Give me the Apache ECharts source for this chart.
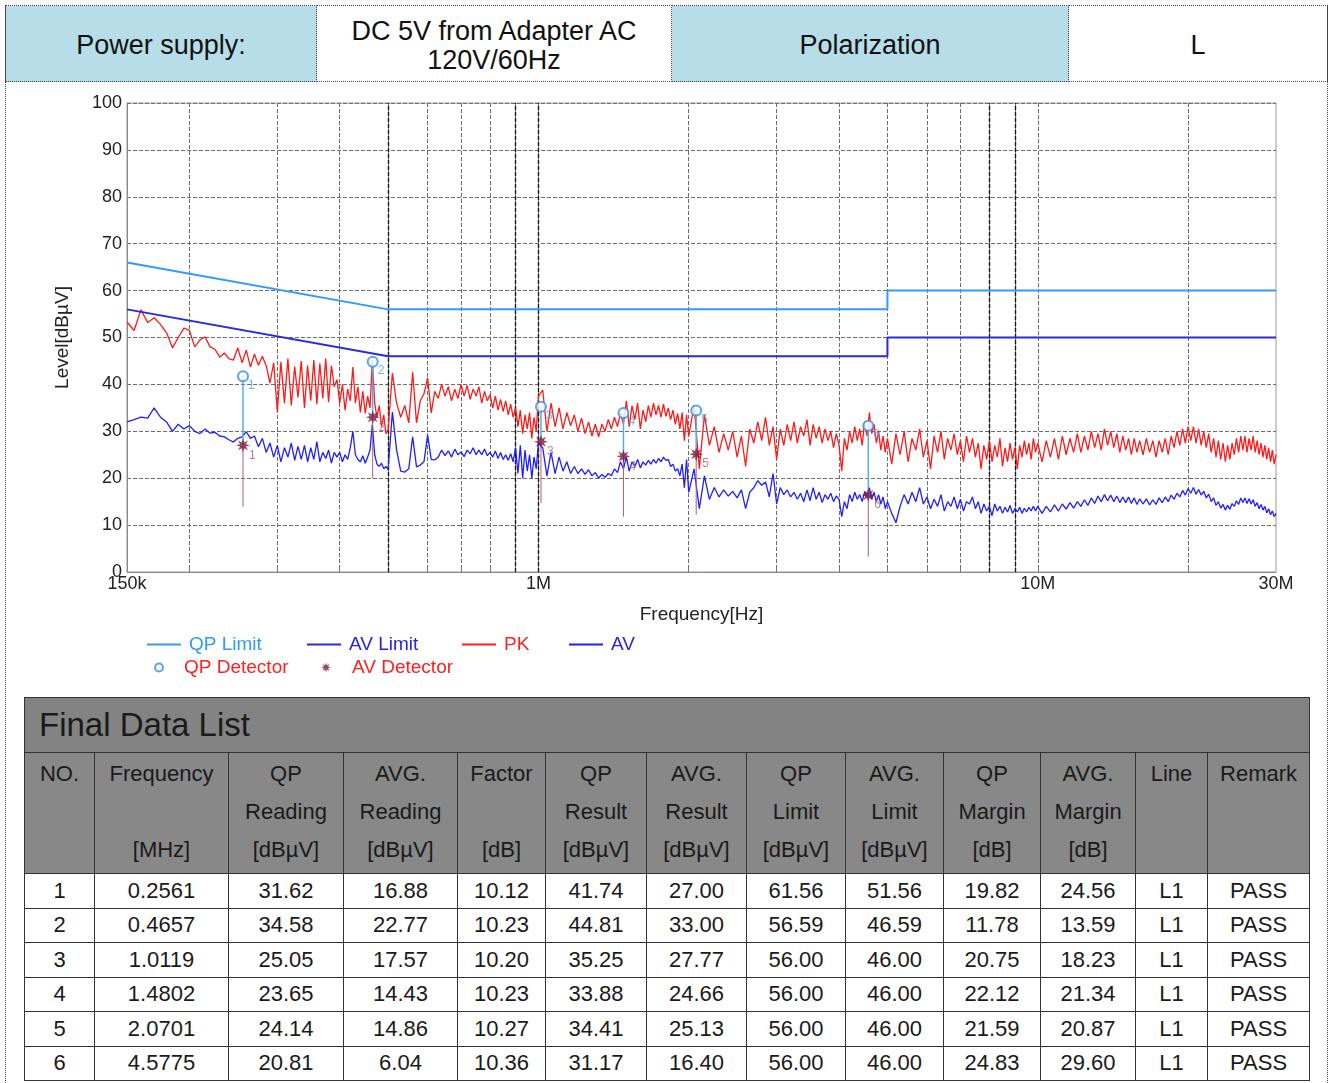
<!DOCTYPE html>
<html>
<head>
<meta charset="utf-8">
<script src="https://cdn.jsdelivr.net/npm/echarts@6/dist/echarts.min.js"></script>
<style>
body { margin: 0; background: #fff; font-family: 'Liberation Sans', Arial, sans-serif; }
#page { position: absolute; left: 5px; top: 5px; width: 1323px; height: 1080px; box-sizing: border-box;
  border-left: 1px dotted #444; border-right: 1px dotted #444; }
#head { position: absolute; left: -1px; top: 0; width: 1323px; height: 77px; border-collapse: collapse; table-layout: fixed; }
#head td { border: 1px dotted #444; font-size: 27px; line-height: 29px; text-align: center; color: #111; padding: 4px 0 0 0; }
#head td.blue { background: #b7dde8; }
#main { position: absolute; left: 0; top: 76px; width: 1320px; height: 612px; }
#list { position: absolute; left: 18px; top: 692px; width: 1285px; border-collapse: collapse; table-layout: fixed;
  font-size: 22px; color: #1a1a1a; }
#list td { border: 1px solid #333; text-align: center; padding: 0; }
#list tr.title td { background: #838383; height: 54px; text-align: left; font-size: 33px; padding-left: 14px; }
#list tr.hdr td { background: #888; height: 118px; vertical-align: top; line-height: 38px; padding-top: 2px; }
#list tr.row td { height: 33.5px; background: #fff; }
</style>
</head>
<body>
<div id="page">
  <table id="head">
    <tr>
      <td class="blue" style="width:310px">Power supply:</td>
      <td style="width:354px">DC 5V from Adapter AC<br>120V/60Hz</td>
      <td class="blue" style="width:396px">Polarization</td>
      <td>L</td>
    </tr>
  </table>
  <div id="main"></div>
  <table id="list"></table>
</div>
<script>
// sweep frequencies [MHz]
const freqMHz = [
  0.150,0.155,0.160,0.165,0.170,0.175,0.180,0.185,0.190,0.195,
  0.200,0.205,0.210,0.215,0.220,0.225,0.230,0.235,0.240,0.245,
  0.250,0.255,0.260,0.265,0.270,
  0.275,0.280,0.285,0.290,0.295,
  0.300,0.305,0.310,0.315,0.320,0.325,0.330,0.335,0.340,0.345,
  0.350,0.355,0.360,0.365,0.370,0.375,0.380,0.385,0.390,0.395,
  0.400,0.405,0.410,0.415,0.420,0.425,0.430,0.435,0.440,0.445,
  0.450,0.455,0.460,0.465,0.470,0.475,0.480,0.485,0.490,0.495,
  0.500,
  0.51,0.52,0.53,0.54,0.55,0.56,0.57,0.58,0.59,0.60,
  0.61,0.62,0.63,0.64,0.65,0.66,0.67,0.68,0.69,0.70,
  0.71,0.72,0.73,0.74,0.75,0.76,0.77,0.78,0.79,0.80,
  0.81,0.82,0.83,0.84,0.85,0.86,0.87,0.88,0.89,0.90,
  0.91,0.92,0.93,0.94,0.95,0.96,0.97,0.98,0.99,1.00,
  1.02,1.04,1.06,1.08,1.10,1.12,1.14,1.16,1.18,1.20,
  1.22,1.24,1.26,1.28,1.30,1.32,1.34,1.36,1.38,1.40,
  1.42,1.44,1.46,1.48,1.50,1.52,1.54,1.56,1.58,1.60,
  1.62,1.64,1.66,1.68,1.70,1.72,1.74,1.76,1.78,1.80,
  1.82,1.84,1.86,1.88,1.90,1.92,1.94,1.96,1.98,2.00,
  2.05,2.10,2.15,2.20,2.25,2.30,2.35,2.40,2.45,2.50,
  2.55,2.60,2.65,2.70,2.75,2.80,2.85,2.90,2.95,3.00,
  3.05,3.10,3.15,3.20,3.25,3.30,3.35,3.40,3.45,3.50,
  3.55,3.60,3.65,3.70,3.75,3.80,3.85,3.90,3.95,4.00,
  4.05,4.10,4.15,4.20,4.25,4.30,4.35,4.40,4.45,4.50,
  4.55,4.60,4.65,4.70,4.75,4.80,4.85,4.90,4.95,5.00,
  5.1,5.2,5.3,5.4,5.5,5.6,5.7,5.8,5.9,6.0,
  6.1,6.2,6.3,6.4,6.5,6.6,6.7,6.8,6.9,7.0,
  7.1,7.2,7.3,7.4,7.5,7.6,7.7,7.8,7.9,8.0,
  8.1,8.2,8.3,8.4,8.5,8.6,8.7,8.8,8.9,9.0,
  9.1,9.2,9.3,9.4,9.5,9.6,9.7,9.8,9.9,10.0,
  10.2,10.4,10.6,10.8,11.0,11.2,11.4,11.6,11.8,12.0,
  12.2,12.4,12.6,12.8,13.0,13.2,13.4,13.6,13.8,14.0,
  14.2,14.4,14.6,14.8,15.0,15.2,15.4,15.6,15.8,16.0,
  16.25,16.5,16.75,17.0,17.25,17.5,17.75,18.0,18.25,18.5,
  18.75,19.0,19.25,19.5,19.75,20.0,20.25,20.5,20.75,21.0,
  21.25,21.5,21.75,22.0,22.25,22.5,22.75,23.0,23.25,23.5,
  23.75,24.0,24.25,24.5,24.75,25.0,25.25,25.5,25.75,26.0,
  26.25,26.5,26.75,27.0,27.25,27.5,27.75,28.0,28.25,28.5,
  28.75,29.0,29.25,29.5,29.75,30.0
];
// peak trace [dBuV]
const pkLevel = [
  53.3,51.5,55.9,53.2,54.2,52.8,51.0,47.8,50.0,52.0,
  51.5,48.0,49.5,50.1,48.0,47.5,45.8,46.7,45.5,45.2,
  47.8,44.6,47.3,43.7,46.5,
  44.1,46.0,44.0,40.3,44.6,
  34.2,44.8,36.0,45.5,35.5,43.8,37.2,45.0,35.0,44.0,
  36.5,45.2,35.8,44.5,37.0,45.5,36.2,44.0,39.5,41.0,
  36.0,40.0,34.5,39.0,36.5,43.7,36.0,39.5,34.0,38.5,
  33.8,37.5,35.0,45.2,36.0,33.0,35.5,31.0,33.5,29.5,
  30.3,
  42.4,36.0,33.0,35.5,31.8,42.6,31.8,36.5,38.0,41.4,
  33.9,38.5,37.0,40.0,37.5,39.5,36.5,39.0,37.0,40.0,
  37.5,39.8,36.8,39.0,37.5,39.5,36.0,38.5,36.5,37.8,
  35.0,37.5,34.5,36.8,34.2,36.5,33.5,35.8,33.0,35.0,
  31.0,34.5,29.5,33.5,30.5,34.0,28.5,33.0,30.0,37.5,
  38.8,30.0,36.0,31.0,35.0,30.5,34.0,31.2,33.5,30.0,
  32.8,29.5,32.0,29.0,31.5,28.8,31.5,30.0,32.5,30.5,
  33.0,31.0,34.0,31.5,36.5,31.0,35.5,32.5,36.0,30.5,
  34.5,32.0,35.5,33.0,36.0,33.5,35.5,33.0,35.8,33.2,
  35.0,32.5,34.5,31.5,33.8,30.5,34.0,28.0,33.5,29.0,
  35.5,22.0,33.5,27.0,31.0,25.5,29.5,26.0,30.0,24.5,
  29.0,22.5,30.5,27.5,32.0,28.0,33.0,27.0,31.0,24.0,
  30.5,27.0,31.5,28.0,32.0,27.5,31.0,29.0,32.5,27.0,
  31.5,28.5,31.0,27.5,30.5,28.0,30.0,26.5,29.5,27.0,
  21.5,28.5,26.0,30.0,27.5,31.0,28.0,30.5,27.0,32.0,
  29.0,34.0,29.5,31.5,27.5,30.0,26.0,29.0,25.5,28.5,
  23.0,29.5,25.0,30.0,23.5,28.5,26.0,30.5,24.5,28.0,
  22.0,29.0,25.5,30.0,24.0,28.5,26.0,29.5,25.0,28.0,
  23.5,29.0,25.5,28.5,24.5,27.5,22.0,27.0,24.0,28.0,
  23.5,27.0,24.5,28.5,22.5,26.5,23.5,27.5,24.0,26.5,
  22.0,27.0,24.5,28.0,25.0,27.5,24.0,28.5,25.5,27.5,
  23.5,28.0,24.5,28.5,24.0,29.0,25.0,28.5,25.5,29.5,
  25.5,29.0,26.0,30.0,26.5,29.5,26.0,30.5,27.0,30.0,
  26.5,29.5,25.5,29.0,26.0,28.5,25.0,28.5,25.5,28.0,
  25.0,28.5,25.5,28.0,24.5,28.0,25.5,28.5,25.0,29.0,
  26.5,30.0,27.0,30.5,27.5,31.0,28.0,31.0,27.5,30.5,
  27.0,30.0,26.5,29.5,25.5,28.5,24.5,28.0,24.0,27.5,
  23.5,27.0,24.0,27.5,25.0,28.5,25.5,29.0,26.0,29.0,
  25.5,28.5,26.0,29.0,25.5,28.0,25.0,27.5,24.5,27.0,
  24.0,26.5,23.5,26.0,23.0,25.0
];
// average trace [dBuV]
const avLevel = [
  32.0,32.5,33.0,32.8,35.0,33.0,32.0,30.0,31.5,30.5,
  31.2,30.0,29.5,30.5,29.6,29.8,29.0,28.8,28.2,27.7,
  28.5,28.8,29.9,28.5,29.0,
  26.7,28.5,25.5,27.5,24.5,
  27.0,23.5,26.5,24.5,27.5,23.8,26.8,24.0,27.0,23.5,
  26.5,24.0,27.8,23.5,25.5,24.2,26.0,23.2,25.5,24.5,
  25.5,23.5,25.0,24.0,26.5,30.0,25.0,24.0,23.5,24.8,
  23.2,24.5,26.0,31.5,25.0,23.0,22.5,23.2,22.0,22.5,
  21.8,
  34.1,26.0,21.5,21.3,22.0,28.8,22.4,22.8,23.5,29.2,
  24.0,23.9,24.5,26.0,24.8,25.8,24.5,26.2,25.0,25.6,
  24.6,26.0,25.2,26.5,25.0,26.0,25.0,26.2,24.8,25.5,
  24.5,25.8,24.2,25.5,24.0,25.0,23.8,25.2,23.5,26.5,
  21.0,27.0,20.0,26.0,21.5,25.0,20.0,24.5,22.0,27.5,
  26.5,20.5,25.5,21.0,24.5,21.5,23.5,21.0,22.5,21.0,
  22.0,20.8,21.8,20.5,21.2,20.0,20.8,20.2,21.0,20.5,
  22.0,21.2,23.5,22.0,24.5,21.5,23.5,22.5,24.0,22.2,
  23.5,22.8,23.8,23.0,24.0,23.2,24.2,23.5,24.5,23.8,
  24.0,22.5,23.0,21.5,22.0,20.5,23.0,18.0,24.0,17.0,
  22.0,13.5,20.5,15.5,18.0,16.0,17.5,16.2,17.2,15.8,
  17.5,13.5,17.0,18.0,19.5,18.5,19.2,16.0,21.0,14.5,
  18.0,16.5,17.5,16.0,17.0,15.5,16.8,15.0,17.5,15.2,
  18.0,15.5,17.0,14.8,16.5,15.5,16.8,15.0,16.2,15.5,
  11.8,15.0,13.5,16.5,15.0,17.0,15.5,16.5,15.0,17.0,
  16.0,18.0,15.5,17.0,15.0,16.5,14.5,16.0,13.5,15.0,
  12.5,10.5,14.0,16.5,14.5,17.0,15.0,18.0,14.5,16.0,
  13.5,15.5,14.0,16.5,13.0,15.0,14.0,16.0,13.5,15.5,
  13.0,15.0,14.5,16.0,13.5,15.0,12.5,14.5,13.0,14.0,
  12.0,14.5,13.0,14.0,12.5,13.8,12.8,14.2,12.5,13.5,
  12.8,13.8,12.5,13.6,12.8,13.8,13.0,14.0,13.0,14.0,
  12.5,14.0,12.8,14.3,13.0,14.5,13.4,14.8,13.6,15.0,
  14.0,15.4,14.2,15.8,14.6,16.2,15.0,16.5,15.2,16.4,
  15.0,16.2,14.8,16.0,14.8,16.0,14.6,15.8,14.4,15.6,
  14.5,15.6,14.3,15.4,14.4,15.8,14.8,16.0,15.0,16.4,
  15.5,16.8,16.0,17.4,16.4,17.8,16.8,18.0,16.6,17.6,
  16.4,17.2,15.8,16.6,15.0,15.8,14.2,15.0,13.6,14.4,
  13.2,14.2,13.4,14.6,14.0,15.2,14.4,15.8,14.8,15.8,
  14.6,15.6,14.5,15.4,14.0,14.8,13.5,14.4,13.2,14.0,
  12.6,13.5,12.2,13.0,11.8,12.5
];
const qpLimitPts = [[0.15, 66], [0.5, 56], [5, 56], [5, 60], [30, 60]];
const avLimitPts = [[0.15, 56], [0.5, 46], [5, 46], [5, 50], [30, 50]];

// final data list
const rowNo = [1, 2, 3, 4, 5, 6];
const finalFreq = [0.2561, 0.4657, 1.0119, 1.4802, 2.0701, 4.5775];
const qpReading = [31.62, 34.58, 25.05, 23.65, 24.14, 20.81];
const avgReading = [16.88, 22.77, 17.57, 14.43, 14.86, 6.04];
const factor = [10.12, 10.23, 10.20, 10.23, 10.27, 10.36];
const qpResult = [41.74, 44.81, 35.25, 33.88, 34.41, 31.17];
const avgResult = [27.00, 33.00, 27.77, 24.66, 25.13, 16.40];
const qpLimit = [61.56, 56.59, 56.00, 56.00, 56.00, 56.00];
const avgLimit = [51.56, 46.59, 46.00, 46.00, 46.00, 46.00];
const qpMargin = [19.82, 11.78, 20.75, 22.12, 21.59, 24.83];
const avgMargin = [24.56, 13.59, 18.23, 21.34, 20.87, 29.60];
const lineName = ['L1', 'L1', 'L1', 'L1', 'L1', 'L1'];
const remark = ['PASS', 'PASS', 'PASS', 'PASS', 'PASS', 'PASS'];
// lower end of the AV marker stems
const stemLow = [13.9, 20.0, 14.7, 11.8, 12.2, 3.3];

const headLines = [
  ['NO.', '', ''], ['Frequency', '', '[MHz]'], ['QP', 'Reading', '[dBµV]'], ['AVG.', 'Reading', '[dBµV]'],
  ['Factor', '', '[dB]'], ['QP', 'Result', '[dBµV]'], ['AVG.', 'Result', '[dBµV]'], ['QP', 'Limit', '[dBµV]'],
  ['AVG.', 'Limit', '[dBµV]'], ['QP', 'Margin', '[dB]'], ['AVG.', 'Margin', '[dB]'], ['Line', '', ''], ['Remark', '', '']
];
const colWidth = [70, 134, 115, 114, 88, 101, 100, 99, 98, 97, 95, 72, 102];

// grid lines / labels on the frequency axis
const gridX = [0.2, 0.3, 0.4, 0.5, 0.6, 0.7, 0.8, 0.9, 1, 2, 3, 4, 5, 6, 7, 8, 9, 10, 20];
const boldX = [0.5, 0.9, 1, 8, 9];
const labelX = [0.15, 1, 10, 30];
const labelXText = ['150k', '1M', '10M', '30M'];

function buildTable () {
  const tbl = document.getElementById('list');
  let html = '<colgroup>' + colWidth.map(w => '<col style="width:' + w + 'px">').join('') + '</colgroup>';
  html += '<tr class="title"><td colspan="13">Final Data List</td></tr>';
  html += '<tr class="hdr">' + headLines.map(l => '<td>' + l.map(t => t || '&nbsp;').join('<br>') + '</td>').join('') + '</tr>';
  rowNo.forEach((n, i) => {
    const cells = [n, finalFreq[i].toFixed(4), qpReading[i].toFixed(2), avgReading[i].toFixed(2), factor[i].toFixed(2),
      qpResult[i].toFixed(2), avgResult[i].toFixed(2), qpLimit[i].toFixed(2), avgLimit[i].toFixed(2),
      qpMargin[i].toFixed(2), avgMargin[i].toFixed(2), lineName[i], remark[i]];
    html += '<tr class="row">' + cells.map(c => '<td>' + c + '</td>').join('') + '</tr>';
  });
  tbl.innerHTML = html;
}
buildTable();

const pkData = freqMHz.map((f, i) => [f, pkLevel[i]]);
const avData = freqMHz.map((f, i) => [f, avLevel[i]]);
const qpPoints = finalFreq.map((f, i) => [f, qpResult[i]]);
const avPoints = finalFreq.map((f, i) => [f, avgResult[i]]);
const qpStem = [];
const avStem = [];
finalFreq.forEach((f, i) => {
  qpStem.push([f, qpResult[i]], [f, avgResult[i]], [f, '-']);
  avStem.push([f, avgResult[i]], [f, stemLow[i]], [f, '-']);
});

const starPath = 'path://M20,10L14.16,11.72L17.07,17.07L11.72,14.16L10,20L8.28,14.16L2.93,17.07L5.84,11.72L0,10L5.84,8.28L2.93,2.93L8.28,5.84L10,0L11.72,5.84L17.07,2.93L14.16,8.28Z';
const fontFamily = 'Liberation Sans, Arial, sans-serif';
const gridLine = { color: '#6e6e6e', type: [4, 2], width: 1 };

function fmtFreq (v) {
  for (let i = 0; i < labelX.length; i++) {
    if (Math.abs(v - labelX[i]) < 1e-6 * labelX[i]) return labelXText[i];
  }
  return '';
}

function lineLegend (name, color, left) {
  return {
    data: [{ name: name, textStyle: { color: color } }],
    left: left, top: 554, padding: 0, selectedMode: false,
    icon: 'rect', itemWidth: 34, itemHeight: 2,
    textStyle: { fontSize: 19, fontFamily: fontFamily, padding: [0, 0, 0, 3] }
  };
}
function markLegend (name, icon, size, left) {
  return {
    data: [{ name: name, textStyle: { color: '#ff2020' } }],
    left: left, top: 577, padding: 0, selectedMode: false,
    icon: icon, itemWidth: size, itemHeight: size,
    textStyle: { fontSize: 19, fontFamily: fontFamily, padding: [0, 0, 0, 16] }
  };
}

var myChart = echarts.init(document.getElementById('main'));
var option = {
  animation: false,
  textStyle: { fontFamily: fontFamily },
  grid: { left: 121, top: 22, width: 1149, height: 469, show: true, borderColor: '#9a9a9a', borderWidth: 1, backgroundColor: '#fff' },
  xAxis: {
    type: 'log', logBase: 10, min: 0.15, max: 30,
    name: 'Frequency[Hz]', nameLocation: 'middle', nameGap: 33,
    nameTextStyle: { fontSize: 19, color: '#222' },
    axisLine: { lineStyle: { color: '#8a8a8a' } },
    axisTick: { show: true, inside: true, length: 5, customValues: gridX, lineStyle: { color: '#777' } },
    axisLabel: { customValues: labelX, formatter: fmtFreq, fontSize: 18, color: '#222', margin: 3 },
    splitLine: { show: true, lineStyle: gridLine },
    minorTick: { show: false },
    minorSplitLine: { show: false }
  },
  yAxis: {
    type: 'value', min: 0, max: 100, interval: 10,
    name: 'Level[dBµV]', nameLocation: 'middle', nameGap: 55, nameRotate: 90,
    nameTextStyle: { fontSize: 19, color: '#222' },
    axisLine: { show: true, lineStyle: { color: '#8a8a8a' } },
    axisTick: { show: false },
    axisLabel: { fontSize: 18, color: '#222', margin: 5 },
    splitLine: { show: true, lineStyle: gridLine }
  },
  legend: [
    lineLegend('QP Limit', '#2f9bff', 141),
    lineLegend('AV Limit', '#2424e8', 301),
    lineLegend('PK', '#ff2020', 456),
    lineLegend('AV', '#2424e8', 563),
    markLegend('QP Detector', 'emptyCircle', 8, 148),
    markLegend('AV Detector', starPath, 10, 315)
  ],
  series: [{
    name: 'PK', type: 'line', data: pkData, symbol: 'none', z: 2,
    itemStyle: { color: '#ff1a1a' }, lineStyle: { color: '#ff1a1a', width: 1.3 }
  }, {
    name: 'AV', type: 'line', data: avData, symbol: 'none', z: 2,
    itemStyle: { color: '#1f1fff' }, lineStyle: { color: '#1f1fff', width: 1.3 }
  }, {
    name: 'QP Limit', type: 'line', data: qpLimitPts, symbol: 'none', z: 3,
    itemStyle: { color: '#3399ff' }, lineStyle: { color: '#3399ff', width: 2 },
    markLine: {
      silent: true, symbol: 'none', label: { show: false }, z: 1,
      lineStyle: { color: '#1a1a1a', type: [4, 2], width: 1.4 },
      data: boldX.map(v => ({ xAxis: v }))
    }
  }, {
    name: 'AV Limit', type: 'line', data: avLimitPts, symbol: 'none', z: 3,
    itemStyle: { color: '#2a2ae0' }, lineStyle: { color: '#2a2ae0', width: 2 }
  }, {
    type: 'line', data: qpStem, symbol: 'none', connectNulls: false, z: 4,
    lineStyle: { color: '#5aaaf0', width: 1.5 }
  }, {
    type: 'line', data: avStem, symbol: 'none', connectNulls: false, z: 4,
    lineStyle: { color: '#a8627e', width: 1 }
  }, {
    name: 'QP Detector', type: 'scatter', data: qpPoints, symbol: 'emptyCircle', symbolSize: 10, z: 5,
    itemStyle: { color: '#2f8fe6', borderColor: '#2f8fe6', borderWidth: 2 },
    label: { show: true, formatter: p => String(p.dataIndex + 1), position: [11, 9], color: '#4ea3ea', fontSize: 12 }
  }, {
    name: 'AV Detector', type: 'scatter', data: avPoints, symbol: starPath, symbolSize: 14, z: 5,
    itemStyle: { color: '#7d1638' },
    label: { show: true, formatter: p => String(p.dataIndex + 1), position: [13, 11], color: '#a56078', fontSize: 12 }
  }]
};
myChart.setOption(option);
</script>
</body>
</html>
